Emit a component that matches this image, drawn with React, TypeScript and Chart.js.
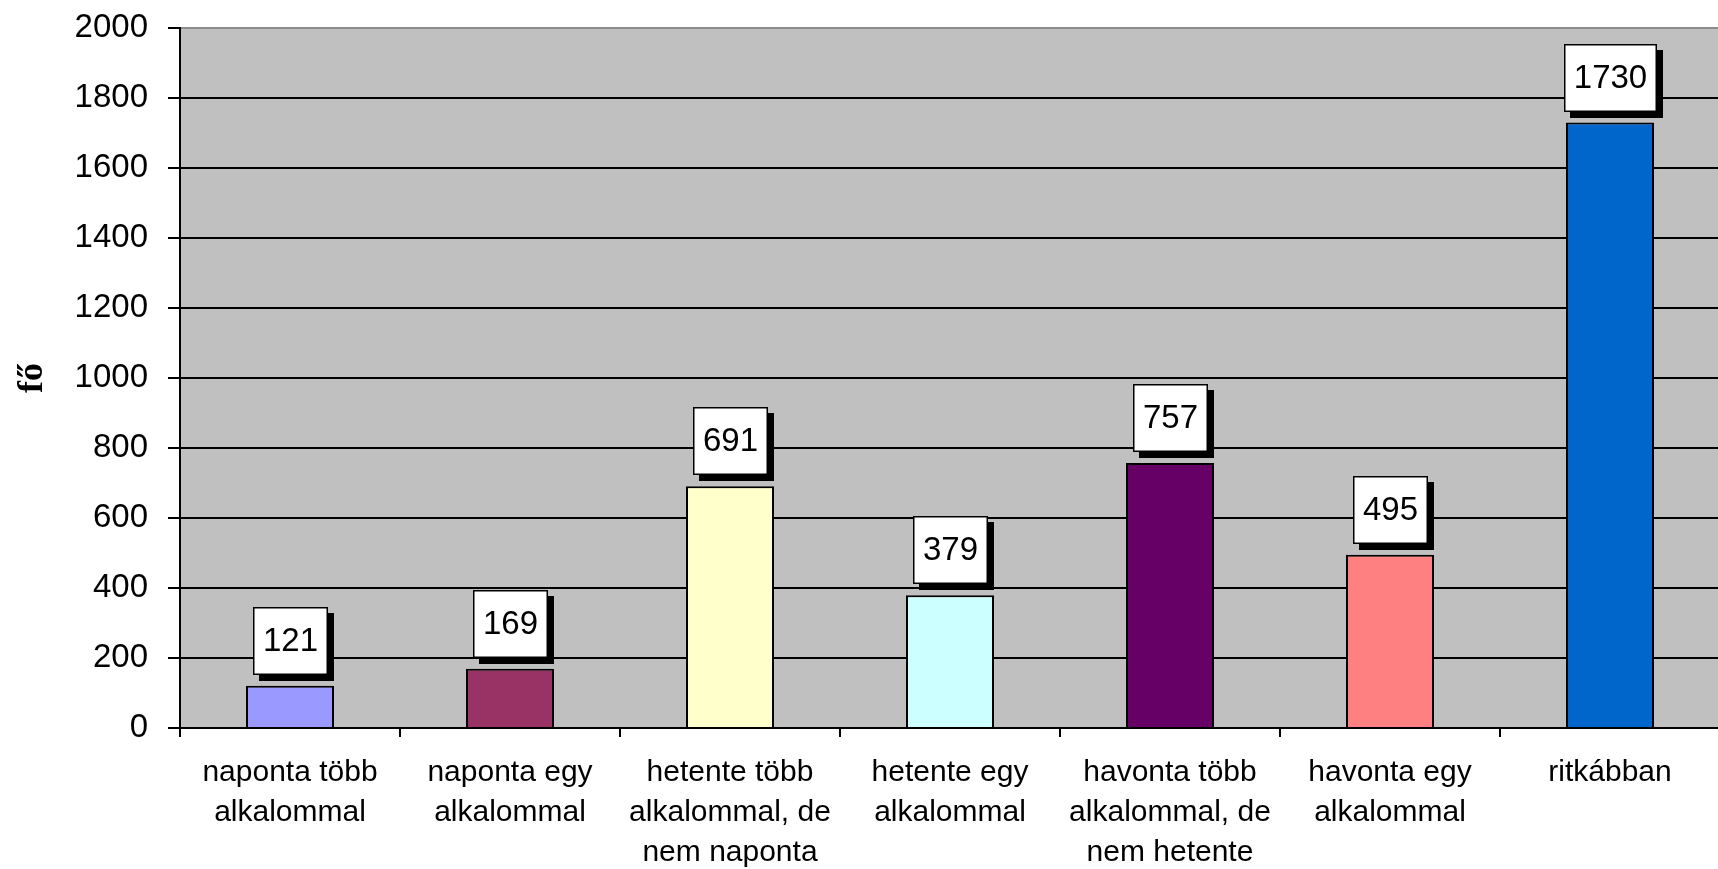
import React, { useEffect, useRef } from "react";
import { Chart, registerables } from "chart.js";

Chart.register(...registerables);

// Survey answers: how often respondents do it (number of people, "fő")
const categories: string[][] = [
  ["naponta több", "alkalommal"],
  ["naponta egy", "alkalommal"],
  ["hetente több", "alkalommal, de", "nem naponta"],
  ["hetente egy", "alkalommal"],
  ["havonta több", "alkalommal, de", "nem hetente"],
  ["havonta egy", "alkalommal"],
  ["ritkábban"],
];
const counts: number[] = [121, 169, 691, 379, 757, 495, 1730];
const barColors: string[] = [
  "#9999FF",
  "#993366",
  "#FFFFCC",
  "#CCFFFF",
  "#660066",
  "#FF8080",
  "#0066CC",
];
const yTitle = "fő";
const yMin = 0;
const yMax = 2000;
const yStep = 200;

const SANS = '"Liberation Sans", Arial, sans-serif';

// Boxed value labels with a hard drop shadow above each bar
const valueBoxes = {
  id: "valueBoxes",
  afterDatasetsDraw(chart: Chart) {
    const ctx = chart.ctx;
    const meta = chart.getDatasetMeta(0);
    const ds = chart.data.datasets[0];
    ctx.save();
    ctx.font = `33px ${SANS}`;
    ctx.textAlign = "center";
    ctx.textBaseline = "middle";
    meta.data.forEach((el: any, i: number) => {
      const text = String(ds.data[i]);
      const w = Math.round(ctx.measureText(text).width + 20);
      const h = 68;
      const x = Math.round(el.x - w / 2);
      const y = Math.round(el.y - 11 - h);
      const shadow = 6;
      ctx.fillStyle = "#000";
      ctx.fillRect(x + shadow, y + shadow, w, h);
      ctx.fillStyle = "#fff";
      ctx.fillRect(x, y, w, h);
      ctx.strokeStyle = "#000";
      ctx.lineWidth = 1.5;
      ctx.strokeRect(x + 0.75, y + 0.75, w - 1.5, h - 1.5);
      ctx.fillStyle = "#000";
      ctx.fillText(text, x + w / 2, y + h / 2 + 1);
    });
    ctx.restore();
  },
};

export default function App() {
  const canvasRef = useRef<HTMLCanvasElement | null>(null);

  useEffect(() => {
    const canvas = canvasRef.current;
    if (!canvas) return;
    const chart = new Chart(canvas, {
      type: "bar",
      data: {
        labels: categories,
        datasets: [
          {
            data: counts,
            backgroundColor: barColors,
            borderColor: "#000",
            borderWidth: 2,
            categoryPercentage: 1,
            barPercentage: 0.4,
          },
        ],
      },
      options: {
        responsive: false,
        animation: false,
        devicePixelRatio: 1,
        layout: { padding: { top: 28, right: 0, bottom: 0, left: 0 } },
        plugins: {
          legend: { display: false },
          tooltip: { enabled: false },
        },
        scales: {
          x: {
            grid: {
              offset: true,
              drawOnChartArea: false,
              drawTicks: true,
              tickLength: 9,
              color: "#000",
              lineWidth: 2,
            },
            border: { color: "#000", width: 2 },
            ticks: {
              color: "#000",
              font: { family: SANS, size: 30, lineHeight: 40 / 30 },
              padding: 16,
              maxRotation: 0,
              minRotation: 0,
              autoSkip: false,
            },
            afterFit(scale: any) {
              scale.height = 141;
              scale.paddingLeft = 0;
              scale.paddingRight = 0;
            },
          },
          y: {
            min: yMin,
            max: yMax,
            ticks: {
              stepSize: yStep,
              color: "#000",
              font: { family: SANS, size: 33 },
              padding: 20,
              callback: (v: any) => String(v),
            },
            grid: {
              color: (c: any) => (c.tick && c.tick.value === yMax ? "#8c8c8c" : "#000"),
              tickColor: "#000",
              lineWidth: 2,
              tickLength: 12,
            },
            border: { color: "#000", width: 2 },
            title: {
              display: true,
              text: yTitle,
              color: "#000",
              font: { family: '"Liberation Serif", "Times New Roman", serif', size: 36, weight: "bold", lineHeight: 1 },
              padding: { top: 15, bottom: 0 },
            },
            afterFit(scale: any) {
              scale.width = 180;
              scale.paddingTop = 0;
              scale.paddingBottom = 0;
            },
          },
        },
      },
      plugins: [
        {
          id: "plotBg",
          beforeDraw(c: Chart) {
            const { ctx, chartArea } = c;
            ctx.save();
            ctx.fillStyle = "#C0C0C0";
            ctx.fillRect(chartArea.left, chartArea.top, chartArea.right - chartArea.left, chartArea.bottom - chartArea.top);
            ctx.restore();
          },
        },
        valueBoxes,
      ],
    } as any);
    return () => chart.destroy();
  }, []);

  return (
    <div
      style={{
        position: "fixed",
        left: 0,
        top: 0,
        width: 1718,
        height: 869,
        overflow: "hidden",
        background: "#fff",
      }}
    >
      <canvas ref={canvasRef} width={1720} height={869} style={{ display: "block" }} />
    </div>
  );
}
